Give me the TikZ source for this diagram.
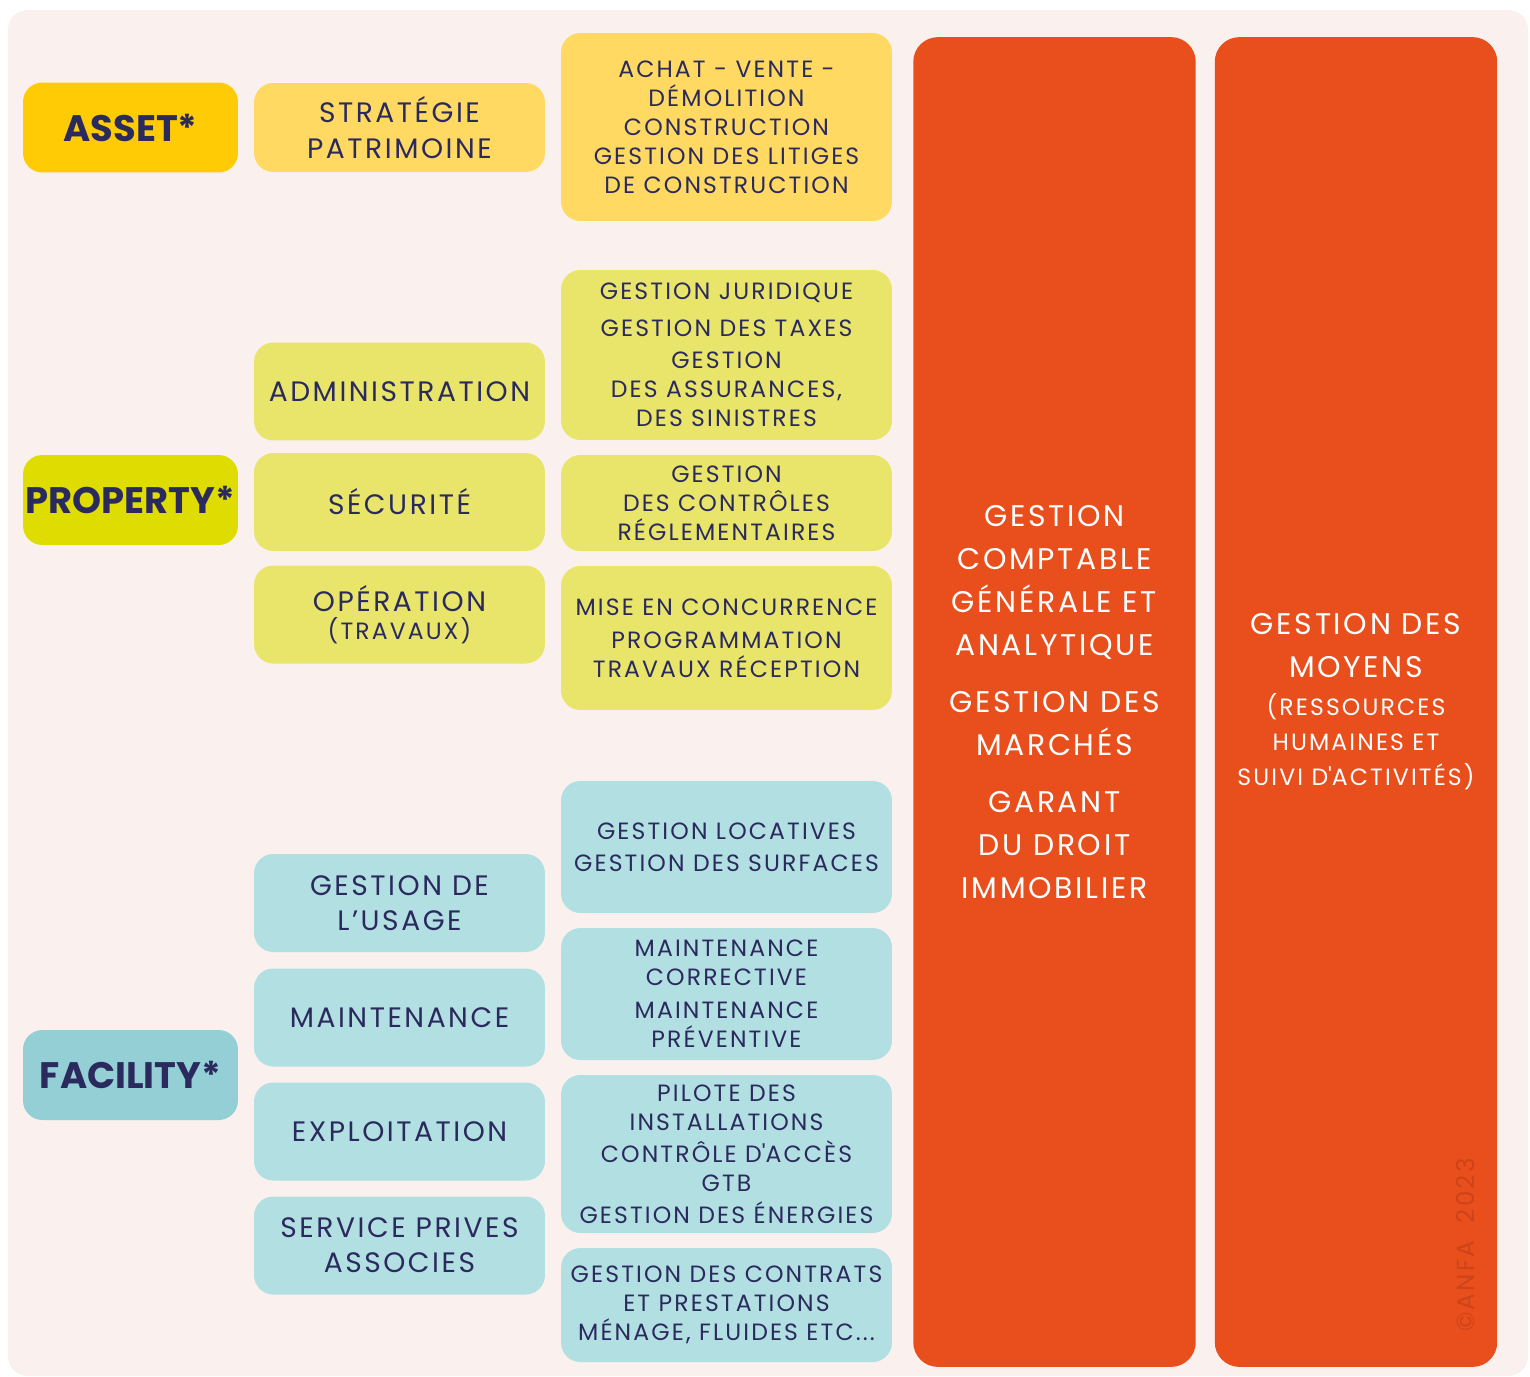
\documentclass[tikz,border=0pt]{standalone}
\usepackage{fontspec}
\setmainfont{Poppins}[LetterSpace=9, BoldFeatures={LetterSpace=0}]
\usepackage{tikz}
\usetikzlibrary{positioning}
\definecolor{panelbg}{HTML}{FAF1EF}
\definecolor{navy}{HTML}{2B2A5E}
\definecolor{assetdark}{HTML}{FFCB05}
\definecolor{assetlight}{HTML}{FFD961}
\definecolor{propdark}{HTML}{DEDC00}
\definecolor{proplight}{HTML}{E8E56A}
\definecolor{facdark}{HTML}{93CFD5}
\definecolor{faclight}{HTML}{B2DFE1}
\definecolor{orangecol}{HTML}{E94F1D}
\definecolor{copyrt}{HTML}{CC4418}
\tikzset{
  catbox/.style = {shape=rectangle, rounded corners=11pt,
                   anchor=center, inner sep=0pt, align=center,
                   minimum width=4.3cm, minimum height=1.8cm,
                   text=navy, font=\bfseries\fontsize{21}{25}\selectfont},
  taskbox/.style = {shape=rectangle, rounded corners=11pt,
                   anchor=center, inner sep=0pt, align=center,
                   minimum width=5.82cm, minimum height=1.96cm,
                   text=navy, font=\fontsize{16}{20}\selectfont},
  detailbox/.style = {shape=rectangle, rounded corners=11pt,
                   anchor=center, inner sep=0pt, align=center,
                   minimum width=6.62cm,
                   text=navy, font=\fontsize{13.4}{16.5}\selectfont},
  sidecol/.style = {shape=rectangle, rounded corners=14pt,
                   anchor=center, inner sep=0pt, align=center,
                   fill=orangecol, minimum width=5.65cm, minimum height=26.6cm,
                   text=white, font=\fontsize{17}{24.5}\selectfont}
}
\begin{document}
\begin{tikzpicture}[x=0.02cm, y=-0.02cm]
  \useasboundingbox (0,0) rectangle (1530,1376);
  \fill[panelbg, rounded corners=11pt] (8,10) rectangle (1528,1376);

  % asset
  \node (asset) [catbox, fill=assetdark] at (130.5,127.5) {ASSET*};
  \node (strat) [taskbox, fill=assetlight, minimum height=1.78cm] at (399.5,127.5) {STRATÉGIE\\PATRIMOINE};
  \node (achat) [detailbox, fill=assetlight, minimum height=3.76cm] at (726.5,127) {ACHAT - VENTE -\\DÉMOLITION\\CONSTRUCTION\\GESTION DES LITIGES\\DE CONSTRUCTION};

  % property
  \node (property) [catbox, fill=propdark] at (130.5,500) {PROPERTY*};
  \node (admin) [taskbox, fill=proplight] at (399.5,391.5) {ADMINISTRATION};
  \node (jurid) [detailbox, fill=proplight, minimum height=3.4cm] at (726.5,355) {GESTION JURIDIQUE\\[4.5pt]GESTION DES TAXES\\[1.7pt]GESTION\\DES ASSURANCES,\\DES SINISTRES};
  \node (secu) [taskbox, fill=proplight] at (399.5,502) {SÉCURITÉ};
  \node (controle) [detailbox, fill=proplight, minimum height=1.92cm] at (726.5,503) {GESTION\\DES CONTRÔLES\\RÉGLEMENTAIRES};
  \node (operation) [taskbox, fill=proplight] at (399.5,614.5) {OPÉRATION\\[-4pt]{\fontsize{13.4}{16}\selectfont (TRAVAUX)}};
  \node (concur) [detailbox, fill=proplight, minimum height=2.88cm] at (726.5,638) {MISE EN CONCURRENCE\\[2.3pt]PROGRAMMATION\\TRAVAUX RÉCEPTION};

  % facility
  \node (facility) [catbox, fill=facdark] at (130.5,1075) {FACILITY*};
  \node (usage) [taskbox, fill=faclight] at (399.5,903) {GESTION DE\\L’USAGE};
  \node (locat) [detailbox, fill=faclight, minimum height=2.64cm] at (726.5,847) {GESTION LOCATIVES\\[1.7pt]GESTION DES SURFACES};
  \node (maint) [taskbox, fill=faclight] at (399.5,1017.5) {MAINTENANCE};
  \node (maintdet) [detailbox, fill=faclight, minimum height=2.64cm] at (726.5,994) {MAINTENANCE\\CORRECTIVE\\[2.3pt]MAINTENANCE\\PRÉVENTIVE};
  \node (exploit) [taskbox, fill=faclight] at (399.5,1131.5) {EXPLOITATION};
  \node (pilote) [detailbox, fill=faclight, minimum height=3.16cm] at (726.5,1154) {PILOTE DES\\INSTALLATIONS\\[1.7pt]CONTRÔLE D\textquotesingle ACCÈS\\GTB\\[1.7pt]GESTION DES ÉNERGIES};
  \node (service) [taskbox, fill=faclight] at (399.5,1245.5) {SERVICE PRIVES\\ASSOCIES};
  \node (contrat) [detailbox, fill=faclight, minimum height=2.28cm] at (726.5,1305) {GESTION DES CONTRATS\\ET PRESTATIONS\\MÉNAGE, FLUIDES ETC...};

  % right columns
  \node (compta) [sidecol] at (1054.5,702) {GESTION\\COMPTABLE\\GÉNÉRALE ET\\ANALYTIQUE\\[8pt]GESTION DES\\MARCHÉS\\[8pt]GARANT\\DU DROIT\\IMMOBILIER};
  \node (moyens) [sidecol] at (1356,702) {GESTION DES\\MOYENS\\[-3pt]{\fontsize{13.4}{20}\selectfont (RESSOURCES}\\[-4.5pt]{\fontsize{13.4}{20}\selectfont HUMAINES ET}\\[-4.5pt]{\fontsize{13.4}{20}\selectfont SUIVI D\textquotesingle ACTIVITÉS)}};
  \node (copy) [rotate=90, text=copyrt, font=\fontsize{14}{16}\selectfont] at (1465,1245) {©ANFA\ \ 2023};
\end{tikzpicture}
\end{document}
